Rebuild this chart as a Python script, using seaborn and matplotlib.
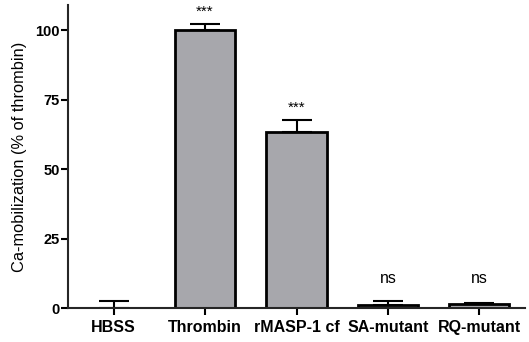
import pandas as pd
import seaborn as sns
import matplotlib.pyplot as plt
import numpy as np

groups = ['HBSS', 'Thrombin', 'rMASP-1 cf', 'SA-mutant', 'RQ-mutant']
values = [0.0, 100.0, 63.2, 1.2, 1.4]
errors = [2.4, 2.3, 4.6, 1.3, 0.3]
labels = ['', '***', '***', 'ns', 'ns']

df = pd.DataFrame({'group': groups, 'value': values})

sns.set_style('ticks')
plt.rcParams['font.family'] = ['Liberation Sans', 'DejaVu Sans']
plt.rcParams['text.color'] = 'black'
plt.rcParams['axes.labelcolor'] = 'black'
plt.rcParams['xtick.color'] = 'black'
plt.rcParams['ytick.color'] = 'black'

fig = plt.figure(figsize=(5.29, 3.42), dpi=100)
ax = fig.add_axes([0.1285, 0.099, 0.864, 0.886])

sns.barplot(data=df, x='group', y='value', color='#a7a7ac', width=0.66,
            edgecolor='black', linewidth=2, saturation=1, ax=ax)

# one-sided error bars (upper only)
x = np.arange(len(groups))
ax.errorbar(x, values, yerr=[np.zeros(len(errors)), errors], fmt='none',
            ecolor='black', elinewidth=1.5, capsize=11, capthick=1.5)

for xi, v, e, lab in zip(x, values, errors, labels):
    if lab == '***':
        ax.text(xi, v + e + 2.7, lab, ha='center', va='baseline', fontsize=11)
    elif lab == 'ns':
        ax.text(xi, 9, lab, ha='center', va='baseline', fontsize=11.5)

ax.set_xlim(-0.5, 4.5)
ax.set_ylim(0, 109)
ax.set_yticks([0, 25, 50, 75, 100])
ax.set_xlabel('')
ax.set_ylabel('Ca-mobilization (% of thrombin)', fontsize=11.8)
ax.yaxis.set_label_coords(-0.09, 0.5)
ax.tick_params(axis='both', width=1.5, length=5, direction='out')
ax.tick_params(axis='y', pad=1)
for lab in ax.get_xticklabels():
    lab.set_fontweight('bold')
    lab.set_fontsize(11.5)
for lab in ax.get_yticklabels():
    lab.set_fontweight('bold')
    lab.set_fontsize(10.5)
for side in ['left', 'bottom']:
    ax.spines[side].set_linewidth(1.5)
sns.despine(ax=ax)

fig.savefig('out.png', dpi=100)
